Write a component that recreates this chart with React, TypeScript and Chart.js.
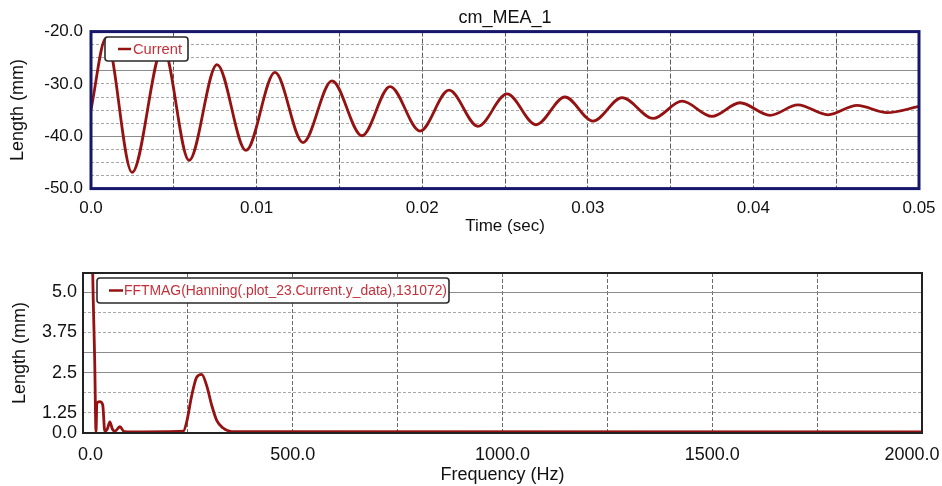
import React, { useEffect, useRef } from "react";
import { Chart, registerables } from "chart.js";

Chart.register(...registerables);

// ---------- data ----------
const timeSec = [
  0, 0.00091, 0.00248, 0.00435, 0.00592, 0.00761, 0.00936, 0.01111, 0.0128, 0.01455,
  0.01636, 0.01806, 0.01987, 0.02162, 0.02337, 0.02512, 0.02687, 0.02862, 0.03031, 0.03207,
  0.03394, 0.03569, 0.0375, 0.03919, 0.041, 0.04269, 0.0445, 0.04626, 0.04807, 0.05,
];
const lengthMm = [
  -34.9, -21.2, -46.9, -23.0, -44.6, -26.3, -42.7, -27.8, -41.2, -29.4,
  -39.9, -30.5, -39.0, -31.2, -38.1, -31.9, -37.8, -32.5, -37.1, -32.6,
  -36.6, -33.3, -36.2, -33.6, -36.0, -34.0, -35.9, -34.1, -35.5, -34.3,
];

const freqHz = [
  0, 22, 28, 31, 33, 40, 47, 52, 58, 64, 70, 76, 88, 98, 120,
  239, 247, 259, 271, 283, 295, 307, 319, 334, 354, 420, 2000,
];
const fftMag = [
  35, 6.5, 2.8, 0.66, 1.55, 1.6, 1.5, 0.68, 0.75, 0.97, 0.75, 0.68, 0.82, 0.67, 0.66,
  0.68, 0.96, 1.78, 2.36, 2.45, 2.09, 1.48, 1.01, 0.78, 0.67, 0.665, 0.66,
];

const timeTickValues = [0, 0.01, 0.02, 0.03, 0.04, 0.05];
const timeTickLabels = ["0.0", "0.01", "0.02", "0.03", "0.04", "0.05"];
const lengthTickValues = [-20, -30, -40, -50];
const lengthTickLabels = ["-20.0", "-30.0", "-40.0", "-50.0"];
const freqTickValues = [0, 500, 1000, 1500, 2000];
const freqTickLabels = ["0.0", "500.0", "1000.0", "1500.0", "2000.0"];
const magTickValues = [0.625, 1.25, 2.5, 3.75, 5.0];
const magTickLabels = ["0.0", "1.25", "2.5", "3.75", "5.0"];

const topTitle = "cm_MEA_1";
const topLegend = "Current";
const bottomLegend = "FFTMAG(Hanning(.plot_23.Current.y_data),131072)";

// ---------- helpers ----------
const FONT = "'Liberation Sans', Arial, sans-serif";
const LINE_RED = "#951212";
const TEXT_RED = "#c4303a";

function labelFor(values: number[], labels: string[], v: number, tol: number) {
  for (let i = 0; i < values.length; i++) {
    if (Math.abs(values[i] - v) < tol) return labels[i];
  }
  return "";
}

function near(list: number[], v: number, tol: number) {
  return list.some((x) => Math.abs(x - v) < tol);
}

function framePlugin(color: string, width: number) {
  return {
    id: "frame",
    afterDraw(chart: any) {
      const { ctx, chartArea: a } = chart;
      ctx.save();
      ctx.strokeStyle = color;
      ctx.lineWidth = width;
      ctx.strokeRect(a.left, a.top, a.right - a.left, a.bottom - a.top);
      ctx.restore();
    },
  };
}

function boxLegendPlugin(o: {
  text: string;
  dx: number;
  dy: number;
  w: number;
  h: number;
  lx0: number;
  lx1: number;
  tx: number;
  textW: number;
  size: number;
}) {
  return {
    id: "boxLegend",
    afterDatasetsDraw(chart: any) {
      const { ctx, chartArea: a } = chart;
      const x = a.left + o.dx;
      const y = a.top + o.dy;
      ctx.save();
      ctx.beginPath();
      const r = 3;
      ctx.moveTo(x + r, y);
      ctx.lineTo(x + o.w - r, y);
      ctx.quadraticCurveTo(x + o.w, y, x + o.w, y + r);
      ctx.lineTo(x + o.w, y + o.h - r);
      ctx.quadraticCurveTo(x + o.w, y + o.h, x + o.w - r, y + o.h);
      ctx.lineTo(x + r, y + o.h);
      ctx.quadraticCurveTo(x, y + o.h, x, y + o.h - r);
      ctx.lineTo(x, y + r);
      ctx.quadraticCurveTo(x, y, x + r, y);
      ctx.closePath();
      ctx.fillStyle = "#ffffff";
      ctx.fill();
      ctx.strokeStyle = "#2a2a2a";
      ctx.lineWidth = 1.6;
      ctx.stroke();
      const cy = y + o.h / 2;
      ctx.strokeStyle = LINE_RED;
      ctx.lineWidth = 2.5;
      ctx.beginPath();
      ctx.moveTo(x + o.lx0, cy);
      ctx.lineTo(x + o.lx1, cy);
      ctx.stroke();
      ctx.font = `${o.size}px ${FONT}`;
      ctx.fillStyle = TEXT_RED;
      ctx.textBaseline = "middle";
      ctx.textAlign = "left";
      const mw = ctx.measureText(o.text).width;
      ctx.translate(x + o.tx, cy + 1);
      ctx.scale(o.textW / mw, 1);
      ctx.fillText(o.text, 0, 0);
      ctx.restore();
    },
  };
}

// ---------- charts ----------
function TopChart() {
  const ref = useRef<HTMLCanvasElement | null>(null);
  useEffect(() => {
    if (!ref.current) return;
    const solidY = [-27.5, -40];
    const chart = new Chart(ref.current, {
      type: "line",
      data: {
        datasets: [
          {
            label: topLegend,
            data: timeSec.map((t, i) => ({ x: t, y: lengthMm[i] })),
            borderColor: LINE_RED,
            borderWidth: 2.8,
            pointRadius: 0,
            cubicInterpolationMode: "monotone",
            fill: false,
          },
        ],
      },
      options: {
        animation: false,
        responsive: false,
        layout: { padding: { left: 0, right: 23, top: 0, bottom: 0 } },
        plugins: {
          legend: { display: false },
          tooltip: { enabled: false },
          title: {
            display: true,
            text: topTitle,
            fullSize: false,
            color: "#111",
            font: { family: FONT, size: 18, weight: "normal" },
            padding: { top: 7.2, bottom: 2.8 },
          },
        },
        scales: {
          x: {
            type: "linear",
            min: 0,
            max: 0.05,
            afterFit: (s: any) => {
              s.height = 56.4;
              s.paddingLeft = 0;
              s.paddingRight = 0;
            },
            ticks: {
              stepSize: 0.005,
              autoSkip: false,
              maxRotation: 0,
              padding: 2,
              color: "#111",
              font: { family: FONT, size: 17 },
              callback: (v: any) => labelFor(timeTickValues, timeTickLabels, Number(v), 1e-5),
            },
            grid: {
              color: "#5a5a5a",
              lineWidth: 1,
              drawTicks: true,
              tickLength: 8,
              tickColor: "rgba(0,0,0,0)",
            },
            border: { display: false, dash: [5, 2] },
            title: {
              display: true,
              text: "Time (sec)",
              color: "#111",
              font: { family: FONT, size: 17 },
              padding: { top: 0, bottom: 8.8 },
            },
          },
          y: {
            type: "linear",
            min: -50,
            max: -20,
            afterFit: (s: any) => {
              s.width = 91;
              s.paddingTop = 0;
              s.paddingBottom = 0;
            },
            ticks: {
              stepSize: 2.5,
              autoSkip: false,
              padding: 8,
              color: "#111",
              font: { family: FONT, size: 17 },
              callback: (v: any) => labelFor(lengthTickValues, lengthTickLabels, Number(v), 1e-3),
            },
            grid: {
              drawTicks: false,
              lineWidth: 1,
              color: (c: any) =>
                c.tick && near(solidY, c.tick.value, 1e-3) ? "#8c8c8c" : "#a8a8a8",
            },
            border: {
              display: false,
              dash: (c: any) =>
                c.tick && !near(solidY, c.tick.value, 1e-3) ? [3, 2] : [],
            },
            title: {
              display: true,
              text: "Length (mm)",
              color: "#111",
              font: { family: FONT, size: 18 },
              padding: { top: 7.5, bottom: 0 },
            },
          },
        },
      },
      plugins: [
        boxLegendPlugin({
          text: topLegend,
          dx: 14,
          dy: 5.4,
          w: 83,
          h: 24,
          lx0: 13,
          lx1: 26,
          tx: 28,
          textW: 49,
          size: 14,
        }),
        framePlugin("#16166a", 3),
      ],
    } as any);
    return () => chart.destroy();
  }, []);
  return <canvas ref={ref} width={942} height={245} style={{ display: "block" }} />;
}

function BottomChart() {
  const ref = useRef<HTMLCanvasElement | null>(null);
  useEffect(() => {
    if (!ref.current) return;
    const solidY = [5.0, 3.125, 2.5];
    const chart = new Chart(ref.current, {
      type: "line",
      data: {
        datasets: [
          {
            label: bottomLegend,
            data: freqHz.map((f, i) => ({ x: f, y: fftMag[i] })),
            borderColor: LINE_RED,
            borderWidth: 2.8,
            pointRadius: 0,
            cubicInterpolationMode: "monotone",
            fill: false,
          },
        ],
      },
      options: {
        animation: false,
        responsive: false,
        layout: { padding: { left: 0, right: 20, top: 28, bottom: 0 } },
        plugins: {
          legend: { display: false },
          tooltip: { enabled: false },
          title: { display: false },
        },
        scales: {
          x: {
            type: "linear",
            min: 0,
            max: 2000,
            afterFit: (s: any) => {
              s.height = 53;
              s.paddingLeft = 0;
              s.paddingRight = 0;
            },
            ticks: {
              stepSize: 250,
              autoSkip: false,
              maxRotation: 0,
              padding: 3,
              color: "#111",
              font: { family: FONT, size: 18 },
              callback: (v: any) => {
                const t = labelFor(freqTickValues, freqTickLabels, Number(v), 1e-3);
                // edge labels are pulled inward as in the reference
                if (Math.abs(Number(v)) < 1e-3) return "   " + t;
                if (Math.abs(Number(v) - 2000) < 1e-3) return t + "    ";
                return t;
              },
            },
            grid: {
              color: "#6a6a6a",
              lineWidth: 1,
              drawTicks: true,
              tickLength: 8,
              tickColor: "rgba(0,0,0,0)",
            },
            border: { display: false, dash: [4, 2] },
            title: {
              display: true,
              text: "Frequency (Hz)",
              color: "#111",
              font: { family: FONT, size: 18 },
              padding: { top: 0, bottom: 0 },
            },
          },
          y: {
            type: "linear",
            min: 0.625,
            max: 5.6,
            afterFit: (s: any) => {
              s.width = 83;
              s.paddingTop = 0;
              s.paddingBottom = 0;
            },
            ticks: {
              stepSize: 0.625,
              autoSkip: false,
              padding: 6,
              color: "#111",
              font: { family: FONT, size: 18 },
              callback: (v: any) => labelFor(magTickValues, magTickLabels, Number(v), 1e-3),
            },
            grid: {
              drawTicks: false,
              lineWidth: 1,
              color: (c: any) =>
                c.tick && near(solidY, c.tick.value, 1e-3) ? "#8c8c8c" : "#a8a8a8",
            },
            border: {
              display: false,
              dash: (c: any) =>
                c.tick && !near(solidY, c.tick.value, 1e-3) ? [3, 2] : [],
            },
            title: {
              display: true,
              text: "Length (mm)",
              color: "#111",
              font: { family: FONT, size: 18 },
              padding: { top: 9.2, bottom: 0 },
            },
          },
        },
      },
      plugins: [
        boxLegendPlugin({
          text: bottomLegend,
          dx: 14,
          dy: 5,
          w: 352,
          h: 25,
          lx0: 12,
          lx1: 26,
          tx: 27,
          textW: 323,
          size: 14,
        }),
        framePlugin("#222222", 2),
      ],
    } as any);
    return () => chart.destroy();
  }, []);
  return <canvas ref={ref} width={942} height={241} style={{ display: "block" }} />;
}

export default function App() {
  useEffect(() => {
    document.body.style.margin = "0";
    document.body.style.background = "#ffffff";
  }, []);
  return (
    <div
      style={{
        position: "absolute",
        left: 0,
        top: 0,
        width: 942,
        height: 486,
        background: "#ffffff",
        overflow: "hidden",
      }}
    >
      <TopChart />
      <BottomChart />
    </div>
  );
}
